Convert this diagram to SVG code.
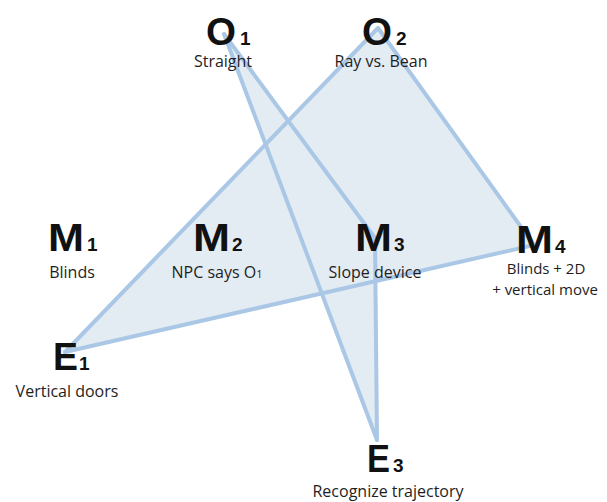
<svg xmlns="http://www.w3.org/2000/svg" width="607" height="502" viewBox="0 0 607 502">
<style>
.area{fill:#e3ebf3;stroke:none}
.edge{stroke:#aac8e6;stroke-width:4;stroke-linecap:round;fill:none}
.big{font-family:"Liberation Sans",Arial,sans-serif;font-weight:bold;font-size:38px;fill:#111}
.sub{font-family:"Liberation Sans",Arial,sans-serif;font-weight:bold;font-size:19px;fill:#111}
.lbl{font-family:"Open Sans","Liberation Sans",sans-serif;font-size:16px;fill:#1e1e1e;text-anchor:middle}
.sm{font-size:15px}
</style>
<rect width="607" height="502" fill="#fff"/>
<g id="areas">
<polygon class="area" points="378,28 534,245 65,352"/>
<polygon class="area" points="224,34 375,238 377,440"/>
</g>
<g id="connectors">
<line class="edge" x1="378" y1="28" x2="534" y2="245"/>
<line class="edge" x1="378" y1="28" x2="65" y2="352"/>
<line class="edge" x1="65" y1="352" x2="534" y2="245"/>
<line class="edge" x1="224" y1="34" x2="375" y2="238"/>
<line class="edge" x1="224" y1="34" x2="377" y2="440"/>
<line class="edge" x1="375" y1="238" x2="377" y2="440"/>
</g>
<g id="O1">
<text class="big" x="206" y="45" textLength="30" lengthAdjust="spacingAndGlyphs">O</text>
<text class="sub" x="240" y="45">1</text>
<text class="lbl" x="223" y="67">Straight</text>
</g>
<g id="O2">
<text class="big" x="362" y="45" textLength="30" lengthAdjust="spacingAndGlyphs">O</text>
<text class="sub" x="396" y="45">2</text>
<text class="lbl" x="381" y="67">Ray vs. Bean</text>
</g>
<g id="M1">
<text class="big" x="48" y="251" textLength="36" lengthAdjust="spacingAndGlyphs">M</text>
<text class="sub" x="87" y="251">1</text>
<text class="lbl" x="72" y="278">Blinds</text>
</g>
<g id="M2">
<text class="big" x="193" y="251" textLength="37" lengthAdjust="spacingAndGlyphs">M</text>
<text class="sub" x="232" y="251">2</text>
<text class="lbl" x="217" y="278">NPC says O<tspan font-size="11">1</tspan></text>
</g>
<g id="M3">
<text class="big" x="355" y="251" textLength="37" lengthAdjust="spacingAndGlyphs">M</text>
<text class="sub" x="394" y="251">3</text>
<text class="lbl" x="375" y="278">Slope device</text>
</g>
<g id="M4">
<text class="big" x="516" y="253" textLength="37" lengthAdjust="spacingAndGlyphs">M</text>
<text class="sub" x="555" y="253">4</text>
<text class="lbl sm" x="546" y="274">Blinds + 2D</text>
<text class="lbl sm" x="545" y="295">+ vertical move</text>
</g>
<g id="E1">
<text class="big" x="53" y="370" textLength="25" lengthAdjust="spacingAndGlyphs">E</text>
<text class="sub" x="79" y="370">1</text>
<text class="lbl" x="67" y="397">Vertical doors</text>
</g>
<g id="E3">
<text class="big" x="367" y="472" textLength="23" lengthAdjust="spacingAndGlyphs">E</text>
<text class="sub" x="393" y="472">3</text>
<text class="lbl" x="388" y="497">Recognize trajectory</text>
</g>
</svg>
